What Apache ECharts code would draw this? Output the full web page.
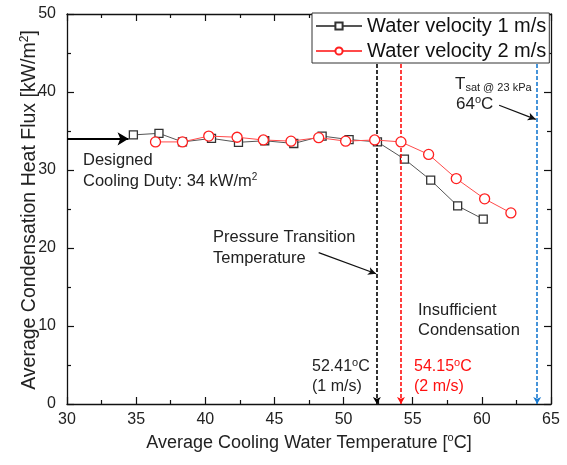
<!DOCTYPE html>
<html><head><meta charset="utf-8">
<script src="https://cdn.jsdelivr.net/npm/echarts@6/dist/echarts.min.js"></script>
<style>html,body{margin:0;padding:0;background:#fff}#c{width:567px;height:465px}</style>
</head><body><div id="c"></div>
<script>
// ---- data ----
const xTicks = [30, 35, 40, 45, 50, 55, 60, 65];
const yTicks = [0, 10, 20, 30, 40, 50];
const temp1 = [34.8, 36.65, 38.35, 40.45, 42.4, 44.3, 46.4, 48.45, 50.4, 52.45, 54.4, 56.3, 58.25, 60.1];
const flux1 = [34.5, 34.7, 33.6, 34.05, 33.55, 33.75, 33.4, 34.35, 33.9, 33.6, 31.4, 28.7, 25.4, 23.7];
const temp2 = [36.4, 38.35, 40.25, 42.3, 44.2, 46.2, 48.2, 50.15, 52.25, 54.15, 56.15, 58.15, 60.2, 62.1];
const flux2 = [33.6, 33.6, 34.35, 34.2, 33.85, 33.7, 34.15, 33.7, 33.85, 33.6, 32.0, 28.9, 26.3, 24.5];
const transition1 = 52.41;
const transition2 = 54.15;
const tsat = 64;
const designDuty = 34;
const seriesNames = ['Water velocity 1 m/s', 'Water velocity 2 m/s'];

const FONT = 'Liberation Sans, Arial, sans-serif';
const chart = echarts.init(document.getElementById('c'));
const pair = (xs, ys) => xs.map((x, i) => [x, ys[i]]);

function vline(x, color) {
  return {
    silent: true, animation: false,
    symbol: ['none', 'arrow'], symbolSize: [6, 7],
    label: { show: false },
    lineStyle: { color: color, type: [4, 2], width: 1.6 },
    data: [[{ coord: [x, 43.6] }, { coord: [x, 0] }]]
  };
}

const axisCommon = {
  type: 'value',
  axisLine: { show: true, onZero: false, lineStyle: { color: '#111', width: 1.3 } },
  axisTick: { show: true, inside: true, length: 7, lineStyle: { color: '#111', width: 1.2 } },
  minorTick: { show: true, splitNumber: 2, length: 4, lineStyle: { color: '#111', width: 1.2 } },
  splitLine: { show: false },
  minorSplitLine: { show: false }
};

chart.setOption({
  animation: false,
  backgroundColor: '#fff',
  grid: { left: 67, right: 16, top: 14, bottom: 61 },
  legend: {
    orient: 'vertical', left: 312, top: 13, padding: [3, 3, 2, 3], itemGap: 5,
    itemWidth: 46, itemHeight: 9,
    backgroundColor: '#fff', borderColor: '#333', borderWidth: 1,
    textStyle: { fontFamily: FONT, fontSize: 20, color: '#111', lineHeight: 20 },
    data: seriesNames
  },
  xAxis: [
    Object.assign({}, axisCommon, {
      min: xTicks[0], max: xTicks[xTicks.length - 1], interval: 5, position: 'bottom',
      axisLabel: { fontFamily: FONT, fontSize: 16, color: '#222', margin: 8 },
      name: 'Average Cooling Water Temperature [{s|o}C]', nameLocation: 'middle', nameGap: 27,
      nameTextStyle: { fontFamily: FONT, fontSize: 18, color: '#222',
        rich: { s: { fontFamily: FONT, fontSize: 11, color: '#222', padding: [0, 0, 9, 0] } } }
    }),
    Object.assign({}, axisCommon, {
      min: xTicks[0], max: xTicks[xTicks.length - 1], interval: 5, position: 'top',
      axisLabel: { show: false }
    })
  ],
  yAxis: [
    Object.assign({}, axisCommon, {
      min: yTicks[0], max: yTicks[yTicks.length - 1], interval: 10, position: 'left',
      axisLabel: { fontFamily: FONT, fontSize: 16, color: '#222', margin: 11 }
    }),
    Object.assign({}, axisCommon, {
      min: yTicks[0], max: yTicks[yTicks.length - 1], interval: 10, position: 'right',
      axisLabel: { show: false }
    })
  ],
  series: [
    {
      name: seriesNames[0], type: 'line', data: pair(temp1, flux1),
      symbol: 'rect', symbolSize: 8, z: 4,
      lineStyle: { color: '#555', width: 1 },
      itemStyle: { color: '#fff', borderColor: '#333', borderWidth: 1.3 },
      markLine: {
        silent: true, animation: false, symbol: ['none', 'arrow'], symbolSize: [10, 11],
        label: { show: false },
        lineStyle: { color: '#000', type: 'solid', width: 2.2 },
        data: [[{ coord: [30, designDuty] }, { coord: [34.45, designDuty] }]]
      }
    },
    {
      name: seriesNames[1], type: 'line', data: pair(temp2, flux2),
      symbol: 'circle', symbolSize: 10, z: 5,
      lineStyle: { color: '#ff4a4a', width: 1 },
      itemStyle: { color: '#fff', borderColor: '#ff1f1f', borderWidth: 1.3 },
      markLine: {
        silent: true, animation: false, symbol: ['none', 'arrow'], symbolSize: [6, 8],
        label: { show: false },
        lineStyle: { color: '#111', type: 'solid', width: 1.3 },
        data: [
          [{ coord: [48.2, 19.4] }, { coord: [52.35, 16.7] }],
          [{ coord: [61.25, 38.3] }, { coord: [63.9, 36.5] }]
        ]
      }
    },
    { type: 'line', data: [], markLine: vline(transition1, '#000') },
    { type: 'line', data: [], markLine: vline(transition2, '#ff1010') },
    { type: 'line', data: [], markLine: vline(tsat, '#1a7ad0') }
  ],
  graphic: [
    { type: 'text', x: 30, y: 210, rotation: Math.PI / 2,
      style: { text: 'Average Condensation Heat Flux [kW/m{s|2}]', font: '19.5px ' + FONT, fill: '#222',
        align: 'center', verticalAlign: 'middle',
        rich: { s: { font: '12px ' + FONT, fill: '#222', padding: [0, 0, 10, 0] } } } },
    { type: 'text', x: 83, y: 160, style: { text: 'Designed', font: '16.5px ' + FONT, fill: '#222', verticalAlign: 'middle' } },
    { type: 'text', x: 83, y: 181, style: { text: 'Cooling Duty: 34 kW/m{s|2}', font: '16.5px ' + FONT, fill: '#222', verticalAlign: 'middle',
        rich: { s: { font: '10px ' + FONT, fill: '#222', padding: [0, 0, 8, 0] } } } },
    { type: 'text', x: 213, y: 237, style: { text: 'Pressure Transition', font: '16.5px ' + FONT, fill: '#222', verticalAlign: 'middle' } },
    { type: 'text', x: 213, y: 258, style: { text: 'Temperature', font: '16.5px ' + FONT, fill: '#222', verticalAlign: 'middle' } },
    { type: 'text', x: 418, y: 310, style: { text: 'Insufficient', font: '16.5px ' + FONT, fill: '#222', verticalAlign: 'middle' } },
    { type: 'text', x: 418, y: 330, style: { text: 'Condensation', font: '16.5px ' + FONT, fill: '#222', verticalAlign: 'middle' } },
    { type: 'text', x: 312, y: 367, style: { text: '52.41{s|o}C', font: '16px ' + FONT, fill: '#222', verticalAlign: 'middle',
        rich: { s: { font: '11px ' + FONT, fill: '#222', padding: [0, 0, 8, 0] } } } },
    { type: 'text', x: 312, y: 387, style: { text: '(1 m/s)', font: '16px ' + FONT, fill: '#222', verticalAlign: 'middle' } },
    { type: 'text', x: 414, y: 367, style: { text: '54.15{s|o}C', font: '16px ' + FONT, fill: '#ff1010', verticalAlign: 'middle',
        rich: { s: { font: '11px ' + FONT, fill: '#ff1010', padding: [0, 0, 8, 0] } } } },
    { type: 'text', x: 414, y: 387, style: { text: '(2 m/s)', font: '16px ' + FONT, fill: '#ff1010', verticalAlign: 'middle' } },
    { type: 'text', x: 455, y: 84, style: { text: 'T{b|sat @ 23 kPa}', font: '17px ' + FONT, fill: '#222', verticalAlign: 'middle',
        rich: { b: { font: '11px ' + FONT, fill: '#222', padding: [8, 0, 0, 0] } } } },
    { type: 'text', x: 456, y: 104, style: { text: '64{s|o}C', font: '17px ' + FONT, fill: '#222', verticalAlign: 'middle',
        rich: { s: { font: '11px ' + FONT, fill: '#222', padding: [0, 0, 8, 0] } } } }
  ]
});
</script></body></html>
